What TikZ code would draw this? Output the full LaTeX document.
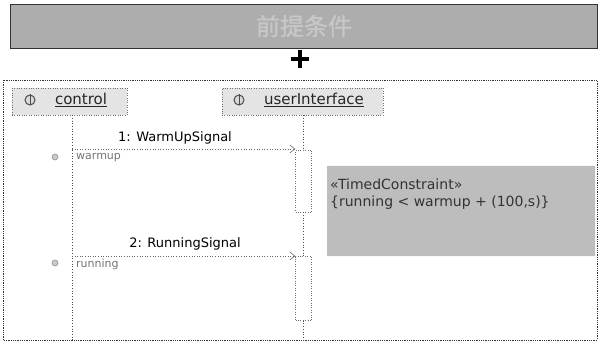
\documentclass[tikz,border=0pt]{standalone}
\usepackage{fontspec}
\setmainfont{DejaVu Sans}
\newfontfamily\cjk{Noto Sans CJK SC}[FakeBold=1.2]
\usetikzlibrary{arrows.meta,shapes.misc}
\definecolor{bannerfill}{HTML}{ADADAD}
\definecolor{notefill}{HTML}{BDBDBD}
\definecolor{lifefill}{HTML}{E4E4E4}
\definecolor{dotcol}{HTML}{707070}
\begin{document}
\begin{tikzpicture}[x=1pt,y=-1pt,
  banner/.style={draw=black!80, fill=bannerfill, minimum width=587pt, minimum height=44pt, inner sep=0pt},
  frame/.style={draw=black!80, densely dotted, line width=0.8pt},
  lifebox/.style={draw=dotcol, dotted, fill=lifefill, minimum height=27pt, inner sep=0pt},
  lname/.style={font=\fontsize{15}{16}\selectfont, text=black!85, inner sep=0pt},
  life/.style={draw=black!70, dotted, line width=0.7pt},
  actbox/.style={draw=dotcol, dotted, fill=white, minimum width=16pt, inner sep=0pt},
  msg/.style={draw=black!60, dotted, line width=0.6pt, -{Straight Barb[length=5pt,width=8pt]}},
  mlabel/.style={font=\fontsize{13}{14}\selectfont, text=black, inner sep=0pt},
  glabel/.style={font=\fontsize{11}{12}\selectfont, text=black!55, inner sep=0pt, anchor=west},
  note/.style={chamfered rectangle, chamfered rectangle corners={north east}, chamfered rectangle xsep=13pt, chamfered rectangle ysep=13pt, fill=notefill, draw=none, minimum width=268pt, minimum height=90pt, inner sep=0pt},
  notetext/.style={font=\fontsize{14}{17}\selectfont, text=black!80, align=left, anchor=north west, inner sep=0pt},
  icon/.style={circle, draw=black!70, fill=black!15, line width=1pt, minimum size=10pt, inner sep=0pt},
  sicon/.style={circle, draw=black!45, fill=black!20, line width=0.6pt, minimum size=6pt, inner sep=0pt}
]
\useasboundingbox (0,0) rectangle (600,342);

% title banner
\node[banner] (title) at (303.5,26) {};
\node[font=\cjk\fontsize{24}{26}\selectfont, text=black!22] (titletext) at (304,26) {前提条件};

% plus sign
\node[inner sep=0pt, minimum size=18pt] (plus) at (300,59) {};
\draw[line width=3.5pt] (plus.north) -- (plus.south);
\draw[line width=3.5pt] (plus.west) -- (plus.east);

% frame
\draw[frame] (3,80) rectangle (597,340);

% lifeline heads
\node[lifebox, minimum width=115pt] (ctrl) at (69.5,101.5) {};
\node[icon] (ctrlicon) at (30,100) {};
\draw[black!70, line width=1pt] (ctrlicon.north) -- (ctrlicon.south);
\node[lname] (ctrlname) at (81,100) {\underline{control}};

\node[lifebox, minimum width=161pt] (ui) at (302.5,101.5) {};
\node[icon] (uiicon) at (239,100) {};
\draw[black!70, line width=1pt] (uiicon.north) -- (uiicon.south);
\node[lname] (uiname) at (314,100) {\underline{userInterface}};

% activation boxes
\node[actbox, minimum height=62pt] (act1) at (303.5,181) {};
\node[actbox, minimum height=64pt] (act2) at (303.5,288.5) {};

% lifelines
\coordinate (ctrlend) at (72,340);
\coordinate (uiend) at (304,340);
\draw[life] (ctrl.south -| ctrlend) -- (ctrlend);
\draw[life] (ui.south -| act1.north) -- (act1.north);
\draw[life] (act1.south) -- (act2.north);
\draw[life] (act2.south) -- (act2.south |- uiend);

% messages
\coordinate (m1) at (72,149);
\coordinate (m2) at (72,256);
\draw[msg] (m1) -- (m1 -| act1.west);
\draw[msg] (m2) -- (m2 -| act2.west);
\node[mlabel] (l1) at (175,138) {1: WarmUpSignal};
\node[mlabel] (l2) at (185,244) {2: RunningSignal};

% time observations
\node[sicon] (t1) at (55,157) {};
\node[glabel] (w1) at (76,158) {warmup};
\node[sicon] (t2) at (55,263) {};
\node[glabel] (w2) at (76,264) {running};

% note
\node[note] (note) at (461,211) {};
\node[notetext] (notetxt) at (330,179) {«TimedConstraint»\\\{running < warmup + (100,s)\}};
\end{tikzpicture}
\end{document}
